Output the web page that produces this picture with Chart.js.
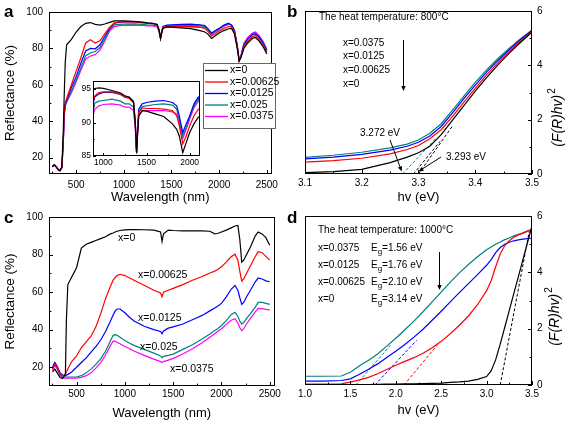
<!DOCTYPE html>
<html>
<head>
<meta charset="utf-8">
<script src="https://cdn.jsdelivr.net/npm/chart.js@4.4.1/dist/chart.umd.min.js"></script>
<style>
  html, body { margin: 0; padding: 0; background: #fff; }
  #fig { position: relative; width: 567px; height: 422px; overflow: hidden; background: #fff; }
  canvas { position: absolute; }
</style>
</head>
<body>
<div id="fig">
  <canvas id="ca" width="283" height="205" style="left:0;top:0"></canvas>
  <canvas id="cb" width="284" height="205" style="left:283px;top:0"></canvas>
  <canvas id="cc" width="283" height="217" style="left:0;top:205px"></canvas>
  <canvas id="cd" width="284" height="217" style="left:283px;top:205px"></canvas>
  <canvas id="ci" width="130" height="98" style="left:75px;top:74px"></canvas>
</div>
<script>
// ---- series names / colours
var SAMPLES = ["x=0", "x=0.00625", "x=0.0125", "x=0.025", "x=0.0375"];
var COLORS = ["#000000", "#ff0000", "#0000ff", "#008080", "#ff00ff"];

// ---- panel a : reflectance, 800 C
var A_WL = [250,270,290,310,330,350,365,375,385,400,450,500,550,600,650,700,750,800,850,900,950,1000,1100,1200,1250,1300,1350,1370,1385,1395,1410,1450,1500,1600,1700,1800,1850,1880,1920,1960,2000,2050,2100,2130,2160,2190,2210,2230,2260,2300,2350,2380,2420,2460,2500];
var A_X0 = [15,16,15,13.5,12.8,15,35,55,72,82,85,89,92,93.8,94.2,93.2,92.8,93.4,94.3,95.1,95.2,95.1,94.8,94.4,94,93.8,93,90,85.5,88,91,91.8,91.7,91.3,90.9,89.8,89,88,85.5,87,88.5,89.8,90.8,91,88,80,73,75,80,83,85.5,86,84,81,77];
var A_X1 = [15,16,15,13.5,12.8,14.5,30,45,50,52.5,60,67.5,75,83,84.8,83,84.2,88,91.5,94,94.5,94.6,94.6,94.2,93.8,93.6,93,90,85.5,88,91.5,92.2,92.1,92.1,92,91.8,91,89.5,86.8,88,89.5,91,92,91.8,89,81,73.2,75.5,81,84,86.5,87,85,82,78];
var A_X2 = [15,16,15,13.5,12.8,14.5,29,44,49,51.5,58.4,64.5,72,78.6,80,79.8,82,86.5,91,93.8,94.3,94.5,94.5,94.2,93.8,93.8,93.2,90,85.6,88.5,92,92.8,93,93.2,93.3,93,92.5,91,88.5,89.8,91,92.8,93.8,92.8,90,81.5,73.5,76,82,85,87.5,88,86,83,79];
var A_X3 = [15,16,15,13.5,12.8,14.5,28.5,43.5,48.5,51,56.5,62.5,69.5,76,77.5,78.3,80.5,85,90,92.9,93.2,93.3,93.5,93.2,92.8,92.8,92.3,89.5,85.5,88.5,91.5,92.4,92.5,92.7,92.8,92.6,92,90.5,88,89.3,90.8,92.5,93.5,92.8,90,81.5,73.5,76,82.5,85.5,88,88.5,86.5,83.5,79];
var A_X4 = [15,16,15,13.5,12.8,14.5,28,43,48,50.5,55.5,61.5,68,74.2,75.8,76.6,79,84,89.5,92,92.5,92.7,92.8,92.6,92.3,92.3,91.8,89,85.3,88,91,91.7,91.8,91.8,91.8,91.6,91.3,90,87.6,89,90.5,92.2,93.2,93,90,81.5,73.5,76.2,82.8,86,88.5,89,87,84,79.5];

// ---- panel c : reflectance, 1000 C
var C_WL = [250,275,300,330,355,375,385,395,410,450,500,550,600,650,700,750,800,850,880,900,920,950,1000,1050,1100,1200,1300,1370,1385,1400,1450,1500,1600,1700,1800,1880,1930,1960,2000,2050,2100,2140,2170,2190,2210,2230,2260,2300,2350,2380,2420,2460,2500];
var C_X0 = [17.5,19,17,14.5,14,15.5,17,45,64,68,73,83.5,85.5,86.5,87.5,88.5,89.5,91,91.5,92,92.4,92.8,93.1,93.3,93.3,93.2,93,92,87,91,93,92.8,92.6,92.6,92.6,92.4,91,91.2,92,93,94.2,95.2,95.5,88,76,77,80,84,90,92,91,89,85];
var C_X1 = [19,21.5,20,16.5,15.5,15.5,16,17.5,19,23,26,30.5,33.5,36.5,41.5,48.5,56.5,63,66.5,67.8,68.8,69.5,68.8,67.5,66.2,63.7,61,59.5,57.5,60,61,62,64,66.3,68.3,70.2,71.2,72,73.5,76,78.8,80.2,77,71,65.8,67,70,74,79,81.5,81,79,77];
var C_X2 = [20,22.5,20.5,17,16,15.5,15.5,15.8,16.2,17.5,20,22.5,25,28,31,34.5,39,44.5,48,50,51,51,49,46.5,44.5,41.8,40,39,37.8,39.3,40.8,41.5,43,45.3,47.6,50,51.5,52.5,54,57.5,61.5,63.5,61,57,53.5,54.5,57.5,61,65.5,67.5,67,66,65.5];
var C_X3 = [19.3,21.5,19.5,16,14.8,14.8,14.8,14.8,14.8,14.8,14.8,15.5,17,19,21.5,24.5,28.5,34,37,37.3,37,36,34.2,32.8,31.5,29.5,27.5,26,25,25.8,26.3,27,29.5,32,35,37.7,39.5,40.5,42.2,44.8,48,49.3,47,44.5,43,43.8,46,48.5,52,54.5,54.5,54,53.5];
var C_X4 = [18.4,21,19,15.5,14.3,14.2,14.2,14.2,14.2,14.2,14.2,14.6,15.5,17,19.5,22.5,26.5,31.5,34,33.8,33.3,32.5,31,29.8,28.5,26.3,24.3,23,22.5,23,23.8,24.7,27,29.8,33,36,37.8,39,40.5,42.8,45,45.8,43.5,41,39.5,40.5,43,46,49.5,51.3,51.2,50.8,50.5];

// ---- panel b : (F(R)hv)^2, 800 C
var B_HV = [3.10,3.15,3.20,3.25,3.28,3.30,3.32,3.34,3.36,3.38,3.40,3.42,3.44,3.46,3.48,3.50];
var B_X0 = [0.05,0.09,0.17,0.42,0.62,0.78,1.02,1.45,1.98,2.52,3.05,3.55,4.02,4.45,4.85,5.22];
var B_X1 = [0.44,0.49,0.58,0.74,0.9,1.05,1.3,1.63,2.12,2.65,3.15,3.65,4.1,4.52,4.9,5.25];
var B_X2 = [0.56,0.62,0.72,0.88,1.02,1.17,1.4,1.75,2.25,2.77,3.27,3.75,4.18,4.58,4.95,5.28];
var B_X4 = [0.61,0.69,0.8,0.96,1.1,1.25,1.5,1.85,2.35,2.87,3.37,3.83,4.25,4.63,4.98,5.3];
// tangent (fit) lines: [hv], [value]
var B_FIT_X4 = [[3.272, 3.33], [0, 1.3]];
var B_FIT_X0A = [[3.291, 3.338], [0, 1.2]];
var B_FIT_X0B = [[3.300, 3.361], [0, 1.8]];

// ---- panel d : (F(R)hv)^2, 1000 C
var D_HV = [1.0,1.2,1.4,1.5,1.6,1.7,1.8,1.9,2.0,2.1,2.2,2.3,2.4,2.5,2.6,2.7,2.8,2.9,3.0,3.05,3.1,3.15,3.2,3.25,3.3,3.35,3.4,3.45,3.5];
var D_X0 = [0,0,0,0,0.01,0.01,0.02,0.03,0.03,0.04,0.04,0.05,0.06,0.07,0.09,0.11,0.14,0.2,0.3,0.5,0.9,1.45,2.05,2.65,3.25,3.85,4.45,5.05,5.65];
var D_X1 = [0.03,0.03,0.04,0.1,0.18,0.27,0.4,0.55,0.7,0.84,0.97,1.13,1.32,1.55,1.82,2.12,2.45,2.85,3.35,3.7,4.2,4.65,4.95,5.12,5.25,5.33,5.4,5.47,5.52];
var D_X2 = [0.14,0.14,0.16,0.22,0.38,0.56,0.75,0.98,1.2,1.44,1.7,1.98,2.3,2.62,2.95,3.28,3.6,3.92,4.25,4.45,4.7,4.88,5.0,5.07,5.12,5.15,5.18,5.2,5.21];
var D_X4 = [0.31,0.31,0.32,0.45,0.68,0.88,1.1,1.38,1.66,1.96,2.27,2.6,2.95,3.3,3.65,3.98,4.28,4.55,4.8,4.9,5.0,5.08,5.16,5.22,5.3,5.35,5.38,5.45,5.5];
var D_FIT_X4 = [[1.56, 1.94], [0, 1.41]];
var D_FIT_X2 = [[1.77, 2.23], [0, 1.59]];
var D_FIT_X1 = [[2.09, 2.47], [0, 1.47]];
var D_FIT_X0 = [[3.15, 3.47], [0, 5.45]];
var D_EG = ["1.56", "1.76", "2.10", "3.14"];

// ---- ticks
var WL_TICKS = [500, 1000, 1500, 2000, 2500];
var R_TICKS = [20, 40, 60, 80, 100];
var INSET_X_TICKS = [1000, 1500, 2000];
var INSET_Y_TICKS = [85, 90, 95];
var B_X_TICKS = [3.1, 3.2, 3.3, 3.4, 3.5];
var D_X_TICKS = [1.0, 1.5, 2.0, 2.5, 3.0, 3.5];
var F_TICKS = [0, 2, 4, 6];

var FONT = '"Liberation Sans", Arial, Helvetica, sans-serif';

function pts(xs, ys) { return xs.map(function (x, i) { return { x: x, y: ys[i] }; }); }
function series(xs, ys, color, dash) {
  return { data: pts(xs, ys), borderColor: color, borderWidth: dash ? 1 : 1.2, borderDash: dash || [],
           pointRadius: 0, fill: false, tension: 0 };
}
function minorsOf(major, min, max) {
  var step = major[1] - major[0], out = [];
  for (var v = major[0] - step / 2; v < max - 1e-9; v += step) if (v > min + 1e-9) out.push(v);
  return out;
}
function arrow(ctx, x1, y1, x2, y2) {
  var a = Math.atan2(y2 - y1, x2 - x1), L = 5, W = 2.2;
  ctx.beginPath(); ctx.moveTo(x1, y1); ctx.lineTo(x2 - L * Math.cos(a), y2 - L * Math.sin(a)); ctx.stroke();
  ctx.beginPath(); ctx.moveTo(x2, y2);
  ctx.lineTo(x2 - L * Math.cos(a) + W * Math.sin(a), y2 - L * Math.sin(a) - W * Math.cos(a));
  ctx.lineTo(x2 - L * Math.cos(a) - W * Math.sin(a), y2 - L * Math.sin(a) + W * Math.cos(a));
  ctx.closePath(); ctx.fill();
}
function txt(ctx, s, x, y, size, opt) {
  ctx.font = (opt || '') + ' ' + size + 'px ' + FONT;
  ctx.textBaseline = 'middle'; ctx.textAlign = 'left';
  ctx.fillText(s, x, y);
}

function decoPlugin(cfg) {
  return {
    id: 'deco',
    beforeDraw: function (ch) {
      if (!cfg.whiteArea) return;
      var a = ch.chartArea;
      ch.ctx.save(); ch.ctx.fillStyle = '#fff';
      ch.ctx.fillRect(a.left, a.top, a.right - a.left, a.bottom - a.top); ch.ctx.restore();
    },
    afterDraw: function (ch) {
      var ctx = ch.ctx, a = ch.chartArea, sx = ch.scales.x, sy = ch.scales.y;
      ctx.save();
      ctx.strokeStyle = '#000'; ctx.fillStyle = '#000'; ctx.lineWidth = 1;
      ctx.strokeRect(Math.round(a.left) + 0.5, Math.round(a.top) + 0.5,
                     Math.round(a.right - a.left) - 1, Math.round(a.bottom - a.top) - 1);
      var tk = cfg.tickLen || 4;
      ctx.beginPath();
      cfg.xTicks.forEach(function (v) { var p = Math.round(sx.getPixelForValue(v)) + 0.5; ctx.moveTo(p, a.bottom); ctx.lineTo(p, a.bottom - tk); });
      minorsOf(cfg.xTicks, cfg.xMin, cfg.xMax).forEach(function (v) { var p = Math.round(sx.getPixelForValue(v)) + 0.5; ctx.moveTo(p, a.bottom); ctx.lineTo(p, a.bottom - tk * 0.6); });
      var right = cfg.yPos === 'right', ex = right ? a.right : a.left, dir = right ? -1 : 1;
      cfg.yTicks.forEach(function (v) { var p = Math.round(sy.getPixelForValue(v)) + 0.5; ctx.moveTo(ex, p); ctx.lineTo(ex + dir * tk, p); });
      minorsOf(cfg.yTicks, cfg.yMin, cfg.yMax).forEach(function (v) { var p = Math.round(sy.getPixelForValue(v)) + 0.5; ctx.moveTo(ex, p); ctx.lineTo(ex + dir * tk * 0.6, p); });
      ctx.stroke();

      var cx = (a.left + a.right) / 2;
      if (cfg.xTitle) {
        ctx.font = '13px ' + FONT; ctx.textAlign = 'center'; ctx.textBaseline = 'middle';
        ctx.fillText(cfg.xTitle, cx, cfg.xTitleY);
      }
      if (cfg.yTitle) {
        ctx.save(); ctx.translate(cfg.yTitleX, (a.top + a.bottom) / 2); ctx.rotate(-Math.PI / 2);
        ctx.font = '13.5px ' + FONT; ctx.textAlign = 'center'; ctx.textBaseline = 'middle';
        ctx.fillText(cfg.yTitle, 0, 0); ctx.restore();
      }
      if (cfg.fTitle) {
        ctx.save(); ctx.translate(cfg.fTitle[0], cfg.fTitle[1]); ctx.rotate(-Math.PI / 2);
        ctx.textBaseline = 'middle'; ctx.textAlign = 'left';
        ctx.font = 'italic 14px ' + FONT; var m = '(F(R)hv)', wm = ctx.measureText(m).width;
        ctx.font = '10px ' + FONT; var ws = ctx.measureText('2').width;
        var x0 = -(wm + ws) / 2;
        ctx.font = 'italic 14px ' + FONT; ctx.fillText(m, x0, 0);
        ctx.font = '10px ' + FONT; ctx.fillText('2', x0 + wm + 1, -6);
        ctx.restore();
      }
      if (cfg.letter) { txt(ctx, cfg.letter[0], cfg.letter[1], cfg.letter[2], 17, 'bold'); }
      if (cfg.extra) cfg.extra(ctx, ch);
      ctx.restore();
    }
  };
}

function makePanel(id, cfg) {
  var cv = document.getElementById(id), W = cv.width, H = cv.height, b = cfg.box;
  var right = cfg.yPos === 'right';
  var fmt = cfg.fmt || function (v) { return String(v); };
  return new Chart(cv, {
    type: 'line',
    data: { datasets: cfg.datasets },
    options: {
      responsive: false, animation: false, events: [],
      layout: { autoPadding: false, padding: { left: right ? b.l : 0, right: right ? 0 : W - b.r, top: b.t, bottom: 0 } },
      plugins: { legend: { display: false }, tooltip: { enabled: false } },
      scales: {
        x: {
          type: 'linear', min: cfg.xMin, max: cfg.xMax,
          grid: { display: false, drawTicks: false }, border: { display: false },
          ticks: { color: '#000', font: { family: FONT, size: cfg.tickSize || 10 }, padding: cfg.xPad, maxRotation: 0, autoSkip: false, callback: fmt },
          afterBuildTicks: function (s) { s.ticks = cfg.xTicks.map(function (v) { return { value: v }; }); },
          afterFit: function (s) { s.height = H - b.b; }
        },
        y: {
          type: 'linear', position: right ? 'right' : 'left', min: cfg.yMin, max: cfg.yMax,
          grid: { display: false, drawTicks: false }, border: { display: false },
          ticks: { color: '#000', font: { family: FONT, size: cfg.tickSize || 10 }, padding: cfg.yPad, autoSkip: false, callback: function (v) { return String(v); } },
          afterBuildTicks: function (s) { s.ticks = cfg.yTicks.map(function (v) { return { value: v }; }); },
          afterFit: function (s) { s.width = right ? W - b.r : b.l; }
        }
      }
    },
    plugins: [decoPlugin(cfg)]
  });
}

var A_SERIES = [A_X0, A_X1, A_X2, A_X3, A_X4];
var C_SERIES = [C_X0, C_X1, C_X2, C_X3, C_X4];

// panel a
makePanel('ca', {
  box: { l: 49, t: 5, r: 279, b: 174 }, xMin: 215, xMax: 2550, yMin: 11, yMax: 100,
  xTicks: WL_TICKS, yTicks: R_TICKS, xPad: 5, yPad: 6,
  datasets: A_SERIES.map(function (s, i) { return series(A_WL, s, COLORS[i]); }),
  xTitle: 'Wavelength (nm)', xTitleY: 197, yTitle: 'Reflectance (%)', yTitleX: 10, letter: ['a', 4, 12],
  extra: function (ctx) {
    ctx.fillStyle = '#fff'; ctx.fillRect(203, 63, 72, 65);
    ctx.strokeStyle = '#666'; ctx.lineWidth = 1; ctx.strokeRect(203.5, 63.5, 72, 65);
    SAMPLES.forEach(function (s, i) {
      var y = 70.5 + i * 11.5;
      ctx.strokeStyle = COLORS[i]; ctx.lineWidth = 1.3;
      ctx.beginPath(); ctx.moveTo(205, y); ctx.lineTo(228, y); ctx.stroke();
      ctx.fillStyle = '#000'; txt(ctx, s, 230, y, 10.5);
    });
  }
});

// inset of panel a
makePanel('ci', {
  box: { l: 18, t: 3, r: 125, b: 82 }, xMin: 880, xMax: 2120, yMin: 85, yMax: 96.2,
  xTicks: INSET_X_TICKS, yTicks: INSET_Y_TICKS, xPad: 2, yPad: 2, tickSize: 8.5, tickLen: 3, whiteArea: true,
  datasets: A_SERIES.map(function (s, i) { return series(A_WL, s, COLORS[i]); })
});

// panel b
makePanel('cb', {
  box: { l: 22, t: 5, r: 249, b: 174 }, xMin: 3.1, xMax: 3.5, yMin: 0, yMax: 6, yPos: 'right',
  xTicks: B_X_TICKS, yTicks: F_TICKS, xPad: 3, yPad: 5, fmt: function (v) { return v.toFixed(1); },
  datasets: [series(B_HV, B_X0, COLORS[0]), series(B_HV, B_X1, COLORS[1]), series(B_HV, B_X2, COLORS[2]), series(B_HV, B_X4, COLORS[3]),
             series(B_FIT_X4[0], B_FIT_X4[1], COLORS[3], [3, 2]), series(B_FIT_X0A[0], B_FIT_X0A[1], COLORS[0], [3, 2]),
             series(B_FIT_X0B[0], B_FIT_X0B[1], COLORS[0], [3, 2])],
  xTitle: 'hv (eV)', xTitleY: 197, fTitle: [275, 118], letter: ['b', 4, 12],
  extra: function (ctx) {
    ctx.fillStyle = '#000'; ctx.strokeStyle = '#000'; ctx.lineWidth = 1;
    txt(ctx, 'The heat temperature: 800\u00b0C', 36, 17, 10);
    [SAMPLES[4], SAMPLES[2], SAMPLES[1], SAMPLES[0]].forEach(function (s, i) { txt(ctx, s, 60, 43 + i * 13.7, 10); });
    arrow(ctx, 120.5, 40, 120.5, 91);
    txt(ctx, '3.272 eV', 77, 133, 10);
    arrow(ctx, 107, 140, 118.7, 171.5);
    txt(ctx, '3.293 eV', 163, 157, 10);
    arrow(ctx, 158, 157, 135.5, 171.5);
  }
});

// panel c
makePanel('cc', {
  box: { l: 49, t: 10, r: 278, b: 181 }, xMin: 215, xMax: 2550, yMin: 10, yMax: 100,
  xTicks: WL_TICKS, yTicks: R_TICKS, xPad: 2, yPad: 6,
  datasets: C_SERIES.map(function (s, i) { return series(C_WL, s, COLORS[i]); }),
  xTitle: 'Wavelength (nm)', xTitleY: 208, yTitle: 'Reflectance (%)', yTitleX: 10, letter: ['c', 4, 13],
  extra: function (ctx) {
    ctx.fillStyle = '#000';
    txt(ctx, SAMPLES[0], 118, 33, 10.5);
    txt(ctx, SAMPLES[1], 138, 70, 10.5);
    txt(ctx, SAMPLES[2], 138, 113, 10.5);
    txt(ctx, SAMPLES[3], 140, 142, 10.5);
    txt(ctx, SAMPLES[4], 170, 164, 10.5);
  }
});

// panel d
makePanel('cd', {
  box: { l: 22, t: 10, r: 249, b: 180 }, xMin: 1.0, xMax: 3.5, yMin: 0, yMax: 6, yPos: 'right',
  xTicks: D_X_TICKS, yTicks: F_TICKS, xPad: 3, yPad: 5, fmt: function (v) { return v.toFixed(1); },
  datasets: [series(D_HV, D_X0, COLORS[0]), series(D_HV, D_X1, COLORS[1]), series(D_HV, D_X2, COLORS[2]), series(D_HV, D_X4, COLORS[3]),
             series(D_FIT_X4[0], D_FIT_X4[1], COLORS[3], [3, 2]), series(D_FIT_X2[0], D_FIT_X2[1], COLORS[2], [3, 2]),
             series(D_FIT_X1[0], D_FIT_X1[1], COLORS[1], [3, 2]), series(D_FIT_X0[0], D_FIT_X0[1], COLORS[0], [3, 2])],
  xTitle: 'hv (eV)', xTitleY: 205, fTitle: [272, 112], letter: ['d', 4, 13],
  extra: function (ctx) {
    ctx.fillStyle = '#000'; ctx.strokeStyle = '#000'; ctx.lineWidth = 1;
    txt(ctx, 'The heat temperature: 1000\u00b0C', 35, 25, 10);
    [SAMPLES[4], SAMPLES[2], SAMPLES[1], SAMPLES[0]].forEach(function (s, i) {
      var y = 43 + i * 17;
      txt(ctx, s, 35, y, 10);
      txt(ctx, 'E', 88, y, 10);
      var we = ctx.measureText('E').width;
      txt(ctx, 'g', 88 + we, y + 4, 8);
      var wg = ctx.measureText('g').width;
      txt(ctx, '=' + D_EG[i] + ' eV', 88 + we + wg, y, 10);
    });
    arrow(ctx, 156.5, 47, 156.5, 85);
  }
});
</script>
</body>
</html>
